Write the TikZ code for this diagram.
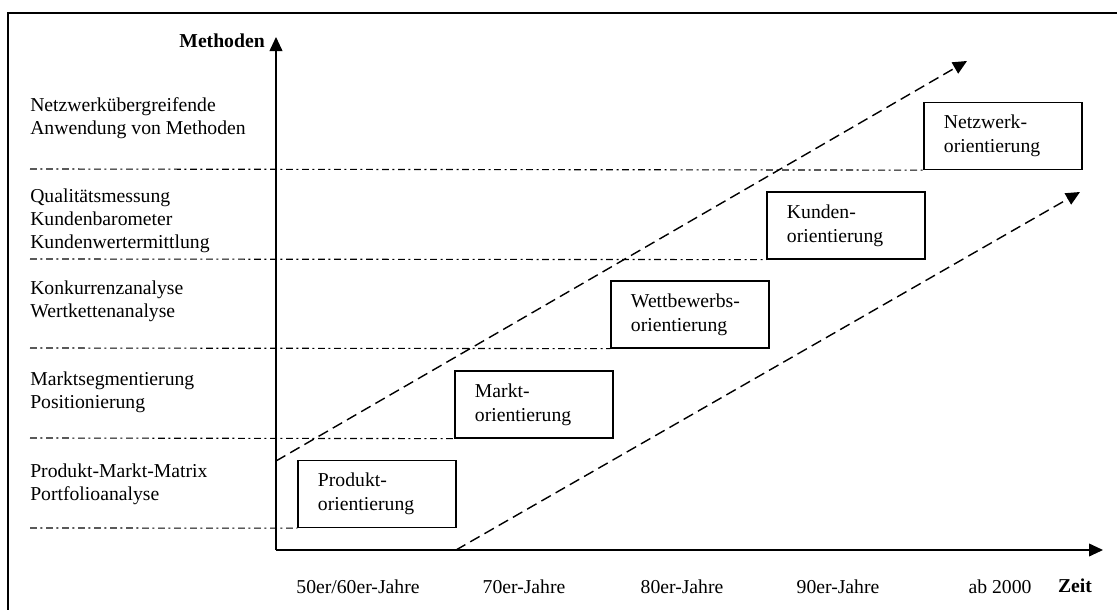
\documentclass[tikz,border=0pt]{standalone}
\usepackage{fontspec}
\setmainfont{Liberation Serif}
\usetikzlibrary{arrows.meta}

\begin{document}
\begin{tikzpicture}[x=0.025cm, y=-0.025cm,
    phase/.style={draw, line width=0.9pt, text width=2.95cm, inner xsep=0.5cm,
      inner ysep=0pt, minimum height=1.675cm, align=left,
      font=\fontsize{14}{17}\selectfont},
    methods/.style={anchor=west, inner sep=0pt, align=left,
      font=\fontsize{14}{16.5}\selectfont},
    era/.style={inner sep=0pt, font=\fontsize{14}{17}\selectfont},
    sep/.style={line width=0.8pt, dash pattern=on 0.17cm off 0.09cm on 0.05cm off 0.09cm},
    trend/.style={line width=1pt, dash pattern=on 0.27cm off 0.14cm,
      -{Triangle[length=0.35cm, width=0.32cm]}},
    axis/.style={line width=0.9pt, -{Triangle[length=0.35cm, width=0.32cm]}}]
    \useasboundingbox (0,0) rectangle (1117,610);
    % Frame
    \draw[line width=0.9pt] (8,610) -- (8,13) -- (1117,13);
    % Axes
    \coordinate (origin) at (276,550);
    \coordinate (ytip) at (276,37);
    \coordinate (xtip) at (1103,550);
    \draw[axis] (origin) -- (ytip);
    \draw[axis] (origin) -- (xtip);
    \node[anchor=east, inner sep=0pt, font=\fontsize{14}{17}\selectfont\bfseries] (ylabel) at (265,41) {Methoden};
    \node[era, font=\fontsize{14}{17}\selectfont\bfseries] (xlabel) at (1075,586) {Zeit};
    % Phases
    \node[phase] (produkt) at (377,494) {Produkt-\\orientierung};
    \node[phase] (markt) at (534,404.5) {Markt-\\orientierung};
    \node[phase] (wettbewerb) at (690,314.5) {Wettbewerbs-\\orientierung};
    \node[phase] (kunden) at (846,225.5) {Kunden-\\orientierung};
    \node[phase] (netzwerk) at (1003,136) {Netzwerk-\\orientierung};
    % Separators
    \coordinate (s1) at (30,528);
    \coordinate (s2) at (30,438);
    \coordinate (s3) at (30,348);
    \coordinate (s4) at (30,259);
    \coordinate (s5) at (30,169);
    \draw[sep] (s1) -- (produkt.south west);
    \draw[sep] (s2) -- (markt.south west);
    \draw[sep] (s3) -- (wettbewerb.south west);
    \draw[sep] (s4) -- (kunden.south west);
    \draw[sep] (s5) -- (netzwerk.south west);
    % Methods
    \node[methods] (m1) at (30,484) {Produkt-Markt-Matrix\\Portfolioanalyse};
    \node[methods] (m2) at (30,392) {Marktsegmentierung\\Positionierung};
    \node[methods] (m3) at (30,301) {Konkurrenzanalyse\\Wertkettenanalyse};
    \node[methods] (m4) at (30,221) {Qualitätsmessung\\Kundenbarometer\\Kundenwertermittlung};
    \node[methods] (m5) at (30,118) {Netzwerkübergreifende\\Anwendung von Methoden};
    % Eras
    \node[era] (e1) at (358,587) {50er/60er-Jahre};
    \node[era] (e2) at (524,587) {70er-Jahre};
    \node[era] (e3) at (682,587) {80er-Jahre};
    \node[era] (e4) at (838,587) {90er-Jahre};
    \node[era] (e5) at (1000,587) {ab 2000};
    % Trend corridor
    \coordinate (u0) at (276,461);
    \coordinate (u1) at (967,61);
    \coordinate (l0) at (456,550);
    \coordinate (l1) at (1080,192);
    \draw[trend] (u0) -- (u1);
    \draw[trend] (l0) -- (l1);
\end{tikzpicture}
\end{document}
